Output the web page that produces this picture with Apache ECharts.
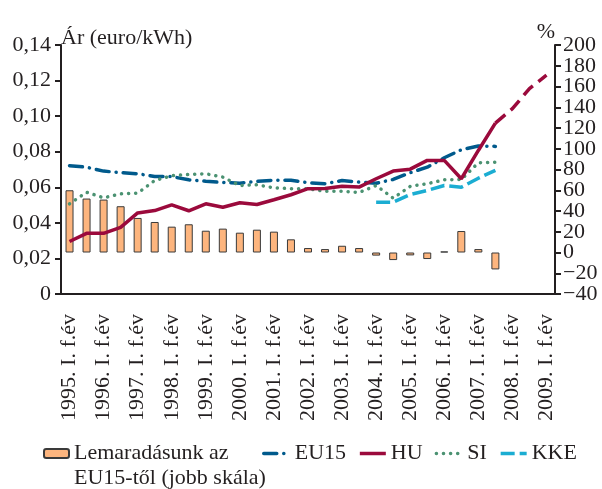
<!DOCTYPE html>
<html lang="hu">
<head>
    <meta charset="UTF-8">
    <title>Villamosenergia-árak</title>
    <script src="https://cdn.jsdelivr.net/npm/echarts@6/dist/echarts.min.js"></script>
    <style>
        *{ padding: 0; margin: 0; }
        #chart{ width: 602px; height: 489px; background: #ffffff; }
    </style>
</head>
<body>
<div id="chart"></div>
<script>
    // félévek
    var categories = [
        '1995. I. f.év', '1995. II. f.év', '1996. I. f.év', '1996. II. f.év',
        '1997. I. f.év', '1997. II. f.év', '1998. I. f.év', '1998. II. f.év',
        '1999. I. f.év', '1999. II. f.év', '2000. I. f.év', '2000. II. f.év',
        '2001. I. f.év', '2001. II. f.év', '2002. I. f.év', '2002. II. f.év',
        '2003. I. f.év', '2003. II. f.év', '2004. I. f.év', '2004. II. f.év',
        '2005. I. f.év', '2005. II. f.év', '2006. I. f.év', '2006. II. f.év',
        '2007. I. f.év', '2007. II. f.év', '2008. I. f.év', '2008. II. f.év',
        '2009. I. f.év'
    ];
    // lemaradás az EU15-től, % (jobb skála)
    var gapPct = [60, 52, 51, 44.6, 33.3, 29.4, 24.9, 27.2, 21, 23, 19.1, 22, 20.1, 12.7,
        4.3, 3.3, 6.5, 4.3, -3, -7.3, -2.8, -6.3, 1, 20.7, 3.3, -16.3];
    // ár, euro/kWh
    var eu15 = [0.0721, 0.0713, 0.0691, 0.0682, 0.0676, 0.0661, 0.066, 0.0642, 0.0634, 0.0627,
        0.0623, 0.0633, 0.064, 0.064, 0.0625, 0.062, 0.0638, 0.0629, 0.0623, 0.0644,
        0.0682, 0.0713, 0.0766, 0.0811, 0.0832, 0.083];
    var hu = [0.0295, 0.0341, 0.0341, 0.0375, 0.0456, 0.0469, 0.0501, 0.0468, 0.0507, 0.0488,
        0.0513, 0.0503, 0.053, 0.0558, 0.0592, 0.0593, 0.0606, 0.0601, 0.0648, 0.0691,
        0.0702, 0.0751, 0.0751, 0.0648, 0.0807, 0.0961];
    // előrejelzés (2007. II. f.év - 2009. I. f.év)
    var huForecast = [null, null, null, null, null, null, null, null, null, null,
        null, null, null, null, null, null, null, null, null, null,
        null, null, null, null, null, 0.0961, 0.1042, 0.1155, 0.123];
    var si = [0.0507, 0.0572, 0.0541, 0.0563, 0.0567, 0.0638, 0.0665, 0.0672, 0.0676, 0.0657,
        0.061, 0.0614, 0.0597, 0.0592, 0.0592, 0.0578, 0.0578, 0.0571, 0.061, 0.0539,
        0.0605, 0.062, 0.0642, 0.0644, 0.0738, 0.0741];
    var kke = [null, null, null, null, null, null, null, null, null, null,
        null, null, null, null, null, null, null, null, 0.0516, 0.0516,
        0.0559, 0.0582, 0.061, 0.06, 0.0651, 0.0695];
    // jobb skála
    var pctMin = -40, pctMax = 200, pctStep = 20;

    var FONT = 'Liberation Serif';
    var INK = '#231f20';
    var FS = 22;
    var barName = 'Lemaradásunk az EU15-től (jobb skála)';

    function pctLabel(v) {
        return v < 0 ? '\u2212' + Math.abs(v) : String(v);
    }

    var my_chart = echarts.init(document.getElementById('chart'), null, {renderer: 'canvas'});
    my_chart.setOption({
        backgroundColor: '#ffffff',
        animation: false,
        textStyle: { fontFamily: FONT, color: INK },
        grid: { left: 61, right: 47, top: 45, bottom: 195 },
        legend: [{
            left: 43,
            top: 416,
            padding: 0,
            itemWidth: 25,
            itemHeight: 9,
            data: [barName],
            // üres első sor: így az ikon az első szöveg-sorral egy vonalban van
            formatter: function () { return '\nLemaradásunk az\nEU15-től (jobb skála)'; },
            textStyle: { fontFamily: FONT, fontSize: FS, lineHeight: 25, color: INK }
        }, {
            left: 262,
            top: 441,
            padding: 0,
            itemWidth: 26,
            itemHeight: 9,
            itemGap: 12,
            data: ['EU15', 'HU', 'SI', 'KKE'],
            lineStyle: { width: 3.5 },
            itemStyle: { opacity: 0 },
            textStyle: { fontFamily: FONT, fontSize: FS, lineHeight: 25, color: INK }
        }],
        xAxis: {
            type: 'category',
            data: categories,
            boundaryGap: true,
            axisLine: { onZero: false, lineStyle: { color: INK, width: 2 } },
            axisTick: { interval: 0, length: 5, lineStyle: { color: INK, width: 2 } },
            axisLabel: {
                interval: 1,
                rotate: 90,
                margin: 20,
                fontFamily: FONT,
                fontSize: FS,
                color: INK
            },
            splitLine: { show: false }
        },
        yAxis: [{
            type: 'value',
            min: 0,
            max: 0.14,
            interval: 0.02,
            name: 'Ár (euro/kWh)',
            nameLocation: 'end',
            nameGap: 7,
            nameTextStyle: { fontFamily: FONT, fontSize: FS, color: INK, align: 'left', verticalAlign: 'middle' },
            axisLine: { show: true, lineStyle: { color: INK, width: 2 } },
            axisTick: { show: true, length: 6, lineStyle: { color: INK, width: 2 } },
            axisLabel: {
                margin: 10,
                fontFamily: FONT,
                fontSize: FS,
                color: INK,
                showMinLabel: true,
                showMaxLabel: true,
                formatter: function (v) {
                    return v === 0 ? '0' : v.toFixed(2).replace('.', ',');
                }
            },
            splitLine: { show: false }
        }, {
            // jobb skála: a belső feliratok
            type: 'value',
            position: 'right',
            min: pctMin,
            max: pctMax,
            interval: pctStep,
            name: '%',
            nameLocation: 'end',
            nameGap: 13,
            nameTextStyle: { fontFamily: FONT, fontSize: FS, color: INK, align: 'right', verticalAlign: 'middle' },
            axisLine: { show: true, lineStyle: { color: INK, width: 2 } },
            axisTick: { show: true, length: 6, lineStyle: { color: INK, width: 2 } },
            axisLabel: {
                margin: 8,
                fontFamily: FONT,
                fontSize: FS,
                color: INK,
                showMinLabel: false,
                showMaxLabel: false,
                formatter: pctLabel
            },
            splitLine: { show: false }
        }, {
            // jobb skála: a két szélső felirat (200 és -40) külön, hogy ne tűnjenek el
            type: 'value',
            position: 'right',
            min: pctMin,
            max: pctMax,
            interval: pctStep,
            axisLine: { show: false },
            axisTick: { show: true, length: 6, lineStyle: { color: INK, width: 2 } },
            axisLabel: {
                margin: 8,
                fontFamily: FONT,
                fontSize: FS,
                color: INK,
                showMinLabel: true,
                showMaxLabel: true,
                formatter: function (v) {
                    return (v === pctMin || v === pctMax) ? pctLabel(v) : '';
                }
            },
            splitLine: { show: false }
        }],
        series: [{
            name: barName,
            type: 'bar',
            yAxisIndex: 1,
            barWidth: 8,
            data: gapPct,
            itemStyle: { color: '#fdb57e', borderColor: '#3a3a3a', borderWidth: 1 }
        }, {
            name: 'EU15',
            type: 'line',
            data: eu15,
            symbol: 'none',
            z: 3,
            lineStyle: { color: '#005a8c', width: 3.5, type: [13, 7, 0.1, 7], cap: 'round' },
            itemStyle: { color: '#005a8c' }
        }, {
            name: 'HU',
            type: 'line',
            data: hu,
            symbol: 'none',
            z: 4,
            lineStyle: { color: '#9b0a3c', width: 3.5 },
            itemStyle: { color: '#9b0a3c' }
        }, {
            name: 'HU',
            type: 'line',
            data: huForecast,
            symbol: 'none',
            z: 4,
            lineStyle: { color: '#9b0a3c', width: 3.5, type: [13, 7] },
            itemStyle: { color: '#9b0a3c' }
        }, {
            name: 'SI',
            type: 'line',
            data: si,
            symbol: 'none',
            z: 3,
            lineStyle: { color: '#4b9272', width: 3.5, type: [0.1, 7], cap: 'round' },
            itemStyle: { color: '#4b9272' }
        }, {
            name: 'KKE',
            type: 'line',
            data: kke,
            symbol: 'none',
            z: 3,
            lineStyle: { color: '#1badd2', width: 3.5, type: [14, 5] },
            itemStyle: { color: '#1badd2' }
        }]
    });
</script>
</body>
</html>
